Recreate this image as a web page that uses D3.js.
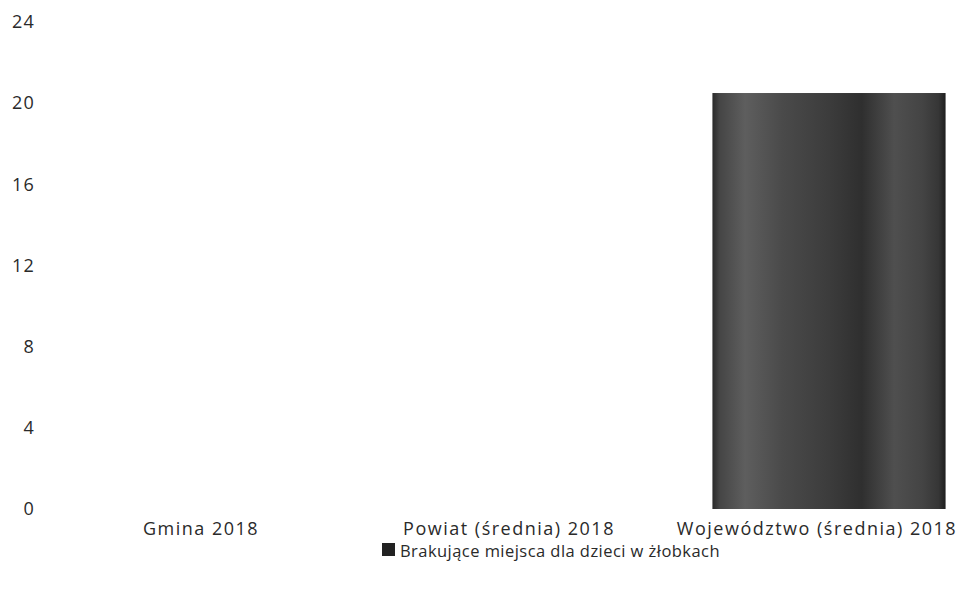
<!DOCTYPE html>
<html><head><meta charset="utf-8">
<script src="https://cdn.jsdelivr.net/npm/d3@7"></script>
<style>body{margin:0;background:#fff}svg{display:block;font-family:"Open Sans","Noto Sans",sans-serif}</style>
</head><body><svg id="c" width="962" height="593"></svg>
<script>
const categories = ["Gmina 2018", "Powiat (średnia) 2018", "Województwo (średnia) 2018"];
const values = [0, 0, 20.5];
const yTicks = [0, 4, 8, 12, 16, 20, 24];
const seriesName = "Brakujące miejsca dla dzieci w żłobkach";

const W = 962, H = 593;
const svg = d3.select("#c");
const x = d3.scaleBand().domain(categories).range([59, 983]).paddingInner(0.243).paddingOuter(0.1215);
const y = d3.scaleLinear().domain([0, 24]).range([509, 22]);

const defs = svg.append("defs");
const g = defs.append("linearGradient").attr("id", "bg").attr("x1", "0").attr("x2", "1").attr("y1", "0").attr("y2", "0");
[[0, "#2a2a2a"], [0.03, "#454545"], [0.14, "#5e5e5e"], [0.3, "#4a4a4a"], [0.5, "#3c3c3c"], [0.64, "#2f2f2f"], [0.78, "#4f4f4f"], [0.9, "#444"], [0.97, "#363636"], [1, "#1e1e1e"]]
  .forEach(([o, c]) => g.append("stop").attr("offset", o).attr("stop-color", c));

const yAxis = d3.axisLeft(y).tickValues(yTicks).tickSize(0).tickPadding(0);
svg.append("g").attr("transform", "translate(35,0)").call(yAxis)
  .call(s => s.select(".domain").remove())
  .selectAll("text").attr("font-size", 18).attr("letter-spacing", 1.2).attr("fill", "#2a2a2a")
  .attr("font-family", "'Open Sans','Noto Sans',sans-serif");

svg.append("g").selectAll("rect").data(values).join("rect")
  .attr("x", (d, i) => x(categories[i]))
  .attr("width", x.bandwidth())
  .attr("y", d => y(d))
  .attr("height", d => y(0) - y(d))
  .attr("fill", "url(#bg)");

svg.append("g").selectAll("text").data(categories).join("text")
  .attr("x", d => x(d) + x.bandwidth() / 2 - 12)
  .attr("y", 535)
  .attr("text-anchor", "middle")
  .attr("font-size", 18).attr("letter-spacing", 1.5).attr("fill", "#2a2a2a")
  .text(d => d);

const lg = svg.append("g");
lg.append("rect").attr("x", 382).attr("y", 543).attr("width", 13).attr("height", 13).attr("fill", "#222");
lg.append("text").attr("x", 400).attr("y", 557).attr("font-size", 16.5).attr("letter-spacing", 0.45).attr("fill", "#2a2a2a").text(seriesName);
</script></body></html>
